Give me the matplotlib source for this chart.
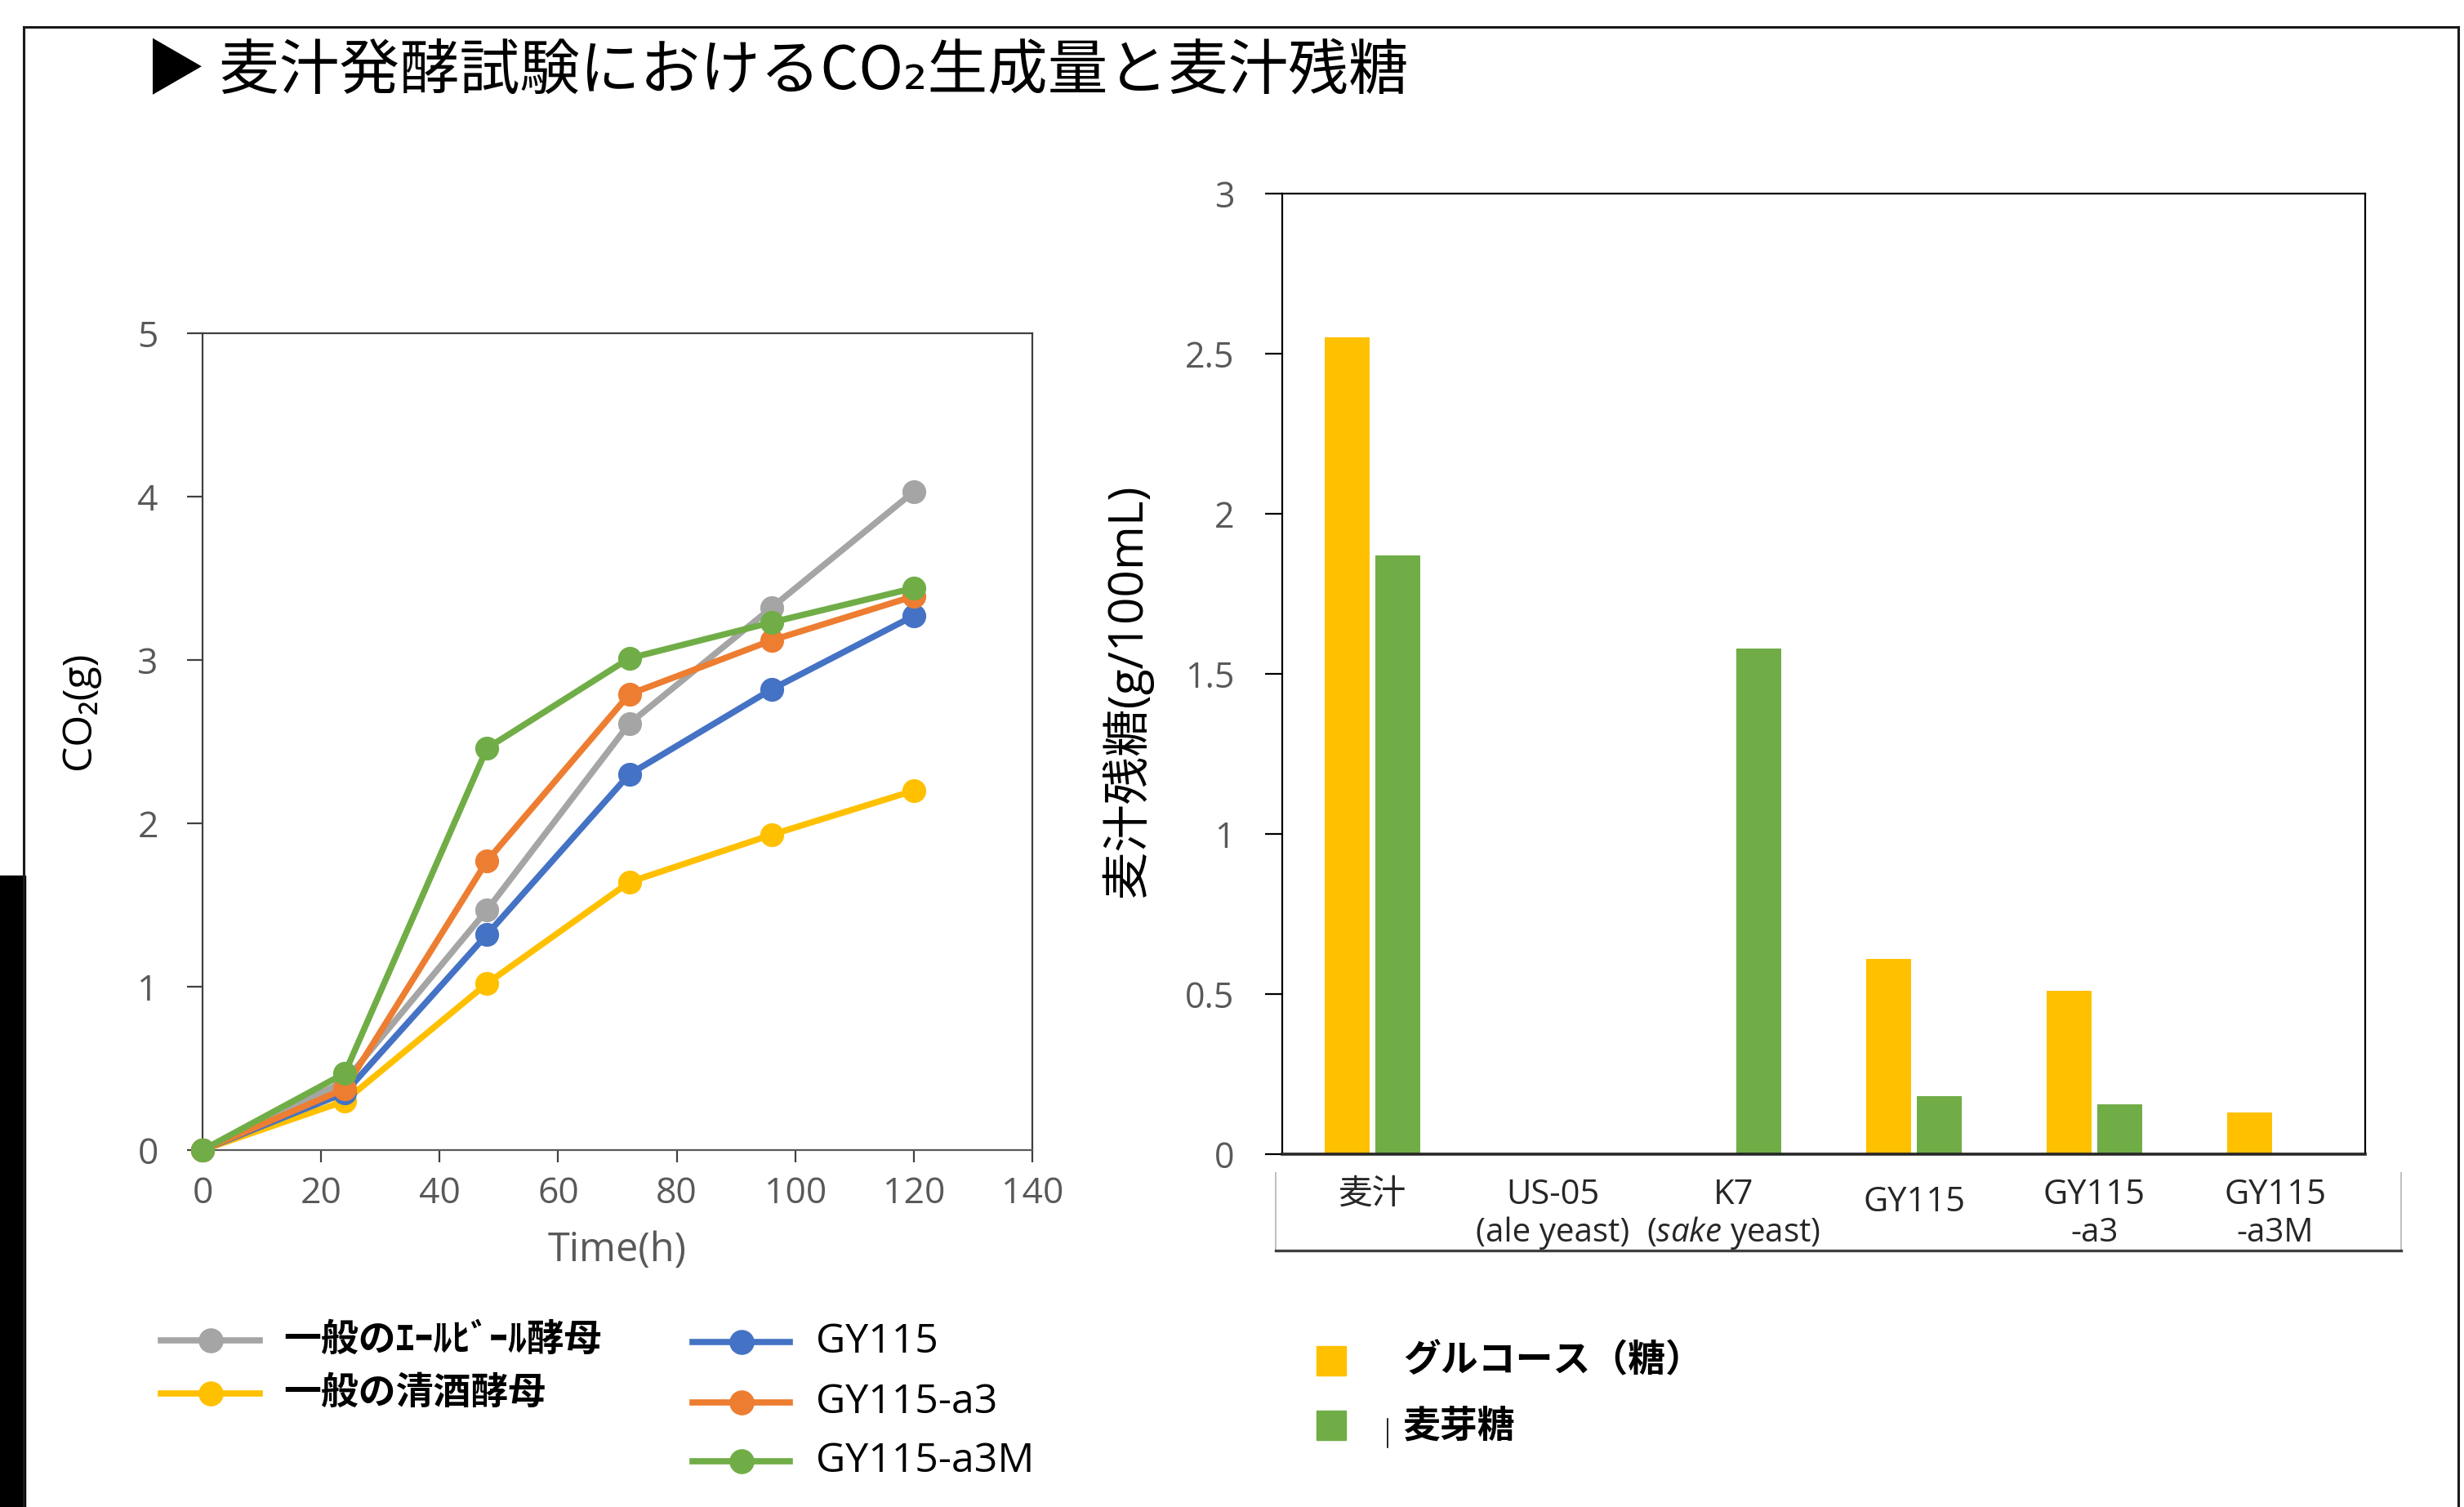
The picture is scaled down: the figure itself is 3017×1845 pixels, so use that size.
import numpy as np
import matplotlib.pyplot as plt
from matplotlib.lines import Line2D
from matplotlib.patches import Rectangle
from matplotlib.transforms import blended_transform_factory

plt.rcParams['font.family'] = ['Open Sans', 'Noto Sans CJK JP', 'DejaVu Sans']
plt.rcParams['mathtext.fontset'] = 'custom'
plt.rcParams['mathtext.rm'] = 'Open Sans'
plt.rcParams['mathtext.it'] = 'Open Sans:italic'

# CO2 evolved during wort fermentation (g)
hours = [0, 24, 48, 72, 96, 120]
ale_yeast = [0, 0.42, 1.47, 2.61, 3.32, 4.03]
sake_yeast = [0, 0.30, 1.02, 1.64, 1.93, 2.20]
gy115 = [0, 0.35, 1.32, 2.30, 2.82, 3.27]
gy115_a3 = [0, 0.375, 1.77, 2.79, 3.12, 3.39]
gy115_a3m = [0, 0.47, 2.46, 3.01, 3.23, 3.44]

series = [ale_yeast, sake_yeast, gy115, gy115_a3, gy115_a3m]
series_names = ['一般のｴｰﾙﾋﾞｰﾙ酵母', '一般の清酒酵母', 'GY115', 'GY115-a3', 'GY115-a3M']
series_colors = ['#A5A5A5', '#FFC000', '#4472C4', '#ED7D31', '#70AD47']

# residual sugar in wort (g/100mL)
strains = ['麦汁', 'US-05', 'K7', 'GY115', 'GY115', 'GY115']
strain_notes = ['', '(ale yeast)', '($\\mathit{sake}$ yeast)', '', '-a3', '-a3M']
glucose = [2.55, 0, 0, 0.61, 0.51, 0.13]
maltose = [1.87, 0, 1.58, 0.18, 0.156, 0]
sugar_names = ['グルコース（糖）', '麦芽糖']
sugar_colors = ['#FFC000', '#70AD47']

W, H = 3017, 1845
fig = plt.figure(figsize=(W / 100, H / 100), dpi=100)


def fx(px):
    return px / W


def fy(py):
    return 1 - py / H


# page frame and the dark strip on the left edge
frame = dict(color='#1a1a1a', lw=2.2, transform=fig.transFigure)
fig.add_artist(Line2D([fx(29), fx(3010)], [fy(33), fy(33)], **frame))
fig.add_artist(Line2D([fx(29), fx(29)], [fy(33), 0], **frame))
fig.add_artist(Line2D([fx(3010), fx(3010)], [fy(33), 0], **frame))
fig.add_artist(Rectangle((0, 0), fx(31), (H - 1072) / H, color='black',
                         transform=fig.transFigure))

fig.text(fx(178), fy(88), '▶ 麦汁発酵試験におけるCO₂生成量と麦汁残糖',
         fontsize=53, va='center', ha='left',
         family=['Noto Sans CJK JP', 'DejaVu Sans'])

# ---- left: CO2 over time ----
ax1 = fig.add_axes([fx(248), fy(1408), (1264 - 248) / W, 1000 / H])
for vals, c in zip(series, series_colors):
    ax1.plot(hours, vals, color=c, lw=5.5, marker='o', ms=20, clip_on=False,
             zorder=3)
ax1.set_xlim(0, 140)
ax1.set_ylim(0, 5)
ax1.set_xticks(range(0, 141, 20))
ax1.set_yticks(range(0, 6))
for s in ax1.spines.values():
    s.set_color('#404040')
    s.set_linewidth(1.6)
ax1.spines['bottom'].set_color('#595959')
ax1.tick_params(axis='y', direction='out', length=14, width=1.6, pad=25,
                labelsize=32, labelcolor='#595959', color='#404040')
ax1.tick_params(axis='x', direction='out', length=11, width=1.6, pad=12,
                labelsize=32, labelcolor='#595959', color='#404040')
ax1.set_xlabel('Time(h)', fontsize=35, color='#595959')
ax1.xaxis.label.set_va('center')
ax1.xaxis.set_label_coords(0.5, -0.123)
ax1.set_ylabel('CO₂(g)', fontsize=36, color='black')
ax1.yaxis.label.set_va('center')
ax1.yaxis.set_label_coords(-0.148, 0.538)

# hand-placed legend in two columns
legend_rows = [(197, 318, 1641, 347), (197, 318, 1706, 347),
               (848, 967, 1643, 999), (848, 967, 1717, 999),
               (848, 967, 1789, 999)]
for i, (x0, x1, y, tx) in enumerate(legend_rows):
    c = series_colors[i]
    fig.add_artist(Line2D([fx(x0), fx(x1)], [fy(y), fy(y)], color=c, lw=5.5,
                          transform=fig.transFigure))
    fig.add_artist(Line2D([fx((x0 + x1) / 2)], [fy(y)], color=c, marker='o',
                          ms=21, transform=fig.transFigure))
    if i < 2:
        fig.text(fx(tx), fy(y), series_names[i], fontsize=33, weight='bold',
                 va='center', family=['Noto Sans CJK JP', 'DejaVu Sans'])
    else:
        fig.text(fx(tx), fy(y), series_names[i], fontsize=36, va='center')

# ---- right: residual sugar ----
ax2 = fig.add_axes([fx(1570), fy(1413), 1326 / W, 1176 / H])
x = np.arange(len(strains))
ax2.bar(x - 0.14, glucose, 0.245, color=sugar_colors[0], zorder=2)
ax2.bar(x + 0.14, maltose, 0.245, color=sugar_colors[1], zorder=2)
ax2.set_xlim(-0.5, 5.5)
ax2.set_ylim(0, 3)
ax2.set_yticks([0, 0.5, 1, 1.5, 2, 2.5, 3])
ax2.set_yticklabels(['0', '0.5', '1', '1.5', '2', '2.5', '3'])
ax2.set_xticks([])
for s in ax2.spines.values():
    s.set_color('black')
    s.set_linewidth(1.6)
ax2.spines['bottom'].set_color('#262626')
ax2.spines['bottom'].set_linewidth(2.6)
ax2.tick_params(axis='y', direction='out', length=15, width=1.6, pad=27,
                labelsize=31, labelcolor='#595959', color='black')
ax2.set_ylabel('麦汁残糖(g/100mL)', fontsize=42, color='black')
ax2.yaxis.label.set_va('center')
ax2.yaxis.set_label_coords(-0.144, 0.483)

# category labels in a box under the bar chart
box = dict(transform=fig.transFigure)
fig.add_artist(Line2D([fx(1562), fx(1562)], [fy(1436), fy(1531)],
                      color='#bfbfbf', lw=1.4, **box))
fig.add_artist(Line2D([fx(2940), fx(2940)], [fy(1436), fy(1531)],
                      color='#bfbfbf', lw=1.4, **box))
fig.add_artist(Line2D([fx(1562), fx(2940)], [fy(1531), fy(1531)],
                      color='#404040', lw=2.4, **box))
lab_tr = blended_transform_factory(ax2.transData, fig.transFigure)
for i, (name, note) in enumerate(zip(strains, strain_notes)):
    y_top = 1472 if (note == '' and i > 0) else 1463
    ax2.text(i, fy(y_top), name, transform=lab_tr, ha='center', va='center',
             fontsize=30, color='#262626', clip_on=False)
    if note:
        ax2.text(i, fy(1510), note, transform=lab_tr, ha='center',
                 va='center', fontsize=29, color='#262626', clip_on=False)

# sugar legend
for i, (y, ty) in enumerate([(1666, 1666), (1745, 1747)]):
    fig.add_artist(Line2D([fx(1630)], [fy(y)], marker='s', ms=26, lw=0,
                          color=sugar_colors[i], transform=fig.transFigure))
    fig.text(fx(1718), fy(ty), sugar_names[i], fontsize=33, weight='bold',
             va='center', family=['Noto Sans CJK JP', 'DejaVu Sans'])
fig.add_artist(Line2D([fx(1699), fx(1699)], [fy(1737), fy(1772)],
                      color='black', lw=1.2, transform=fig.transFigure))

fig.savefig('out.png', dpi=100, facecolor='white')
